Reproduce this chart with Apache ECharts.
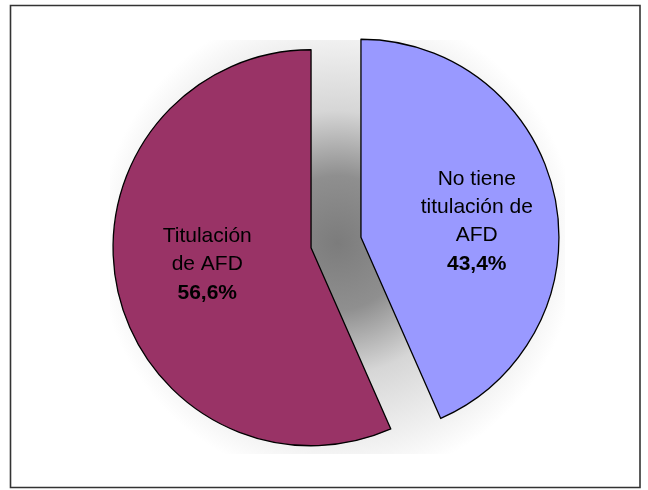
<!DOCTYPE html>
<html>
<head>
<meta charset="utf-8">
<script src="https://cdn.jsdelivr.net/npm/echarts@6/dist/echarts.min.js"></script>
<style>
html,body{margin:0;padding:0;background:#fff;}
#chart{width:648px;height:490px;}
</style>
</head>
<body>
<div id="chart"></div>
<script>
// Data
var categories = ['No tiene titulación de AFD', 'Titulación de AFD'];
var labelLines = ['No tiene\ntitulación de\nAFD', 'Titulación\nde AFD'];
var values = [43.4, 56.6];
var colors = ['#9999FF', '#993366'];

var chart = echarts.init(document.getElementById('chart'), null, {renderer: 'canvas'});

var data = categories.map(function (c, i) {
  return {
    name: c,
    value: values[i],
    selected: true,
    itemStyle: {color: colors[i]}
  };
});

var labelShift = [[16, 6], [-4, -4]];

var option = {
  animation: false,
  backgroundColor: '#ffffff',
  graphic: [
    {
      type: 'rect',
      z: -10,
      silent: true,
      shape: {x: 110, y: 40, width: 455, height: 414},
      style: {
        fill: new echarts.graphic.RadialGradient(0.5, 0.49, 0.58, [
          {offset: 0, color: '#7c7c7c'},
          {offset: 0.28, color: '#8f8f8f'},
          {offset: 0.55, color: '#d6d6d6'},
          {offset: 0.85, color: '#f1f1f1'},
          {offset: 1, color: '#ffffff'}
        ])
      }
    },
    {
      type: 'rect',
      z: 100,
      silent: true,
      shape: {x: 10.5, y: 5.5, width: 629.5, height: 482},
      style: {fill: null, stroke: '#333333', lineWidth: 1.6}
    }
  ],
  series: [
    {
      type: 'pie',
      silent: true,
      center: [336, 242.5],
      radius: [0, 198],
      startAngle: 90,
      clockwise: true,
      selectedMode: 'multiple',
      selectedOffset: 25.5,
      avoidLabelOverlap: false,
      itemStyle: {borderColor: '#000000', borderWidth: 1.3},
      emphasis: {disabled: true},
      select: {itemStyle: {borderColor: '#000000', borderWidth: 1.3}},
      labelLayout: function (p) {
        var s = labelShift[p.dataIndex];
        return {dx: s[0], dy: s[1]};
      },
      label: {
        show: true,
        position: 'inside',
        color: '#000000',
        fontFamily: 'Liberation Sans, Arial, sans-serif',
        fontSize: 21,
        lineHeight: 28,
        align: 'center',
        formatter: function (p) {
          var txt = labelLines[p.dataIndex];
          var pct = p.value.toFixed(1).replace('.', ',') + '%';
          return txt + '\n{b|' + pct + '}';
        },
        rich: {
          b: {fontWeight: 'bold', fontSize: 21, lineHeight: 30, color: '#000000', fontFamily: 'Liberation Sans, Arial, sans-serif'}
        }
      },
      labelLine: {show: false},
      data: data
    }
  ]
};
chart.setOption(option);
</script>
</body>
</html>
